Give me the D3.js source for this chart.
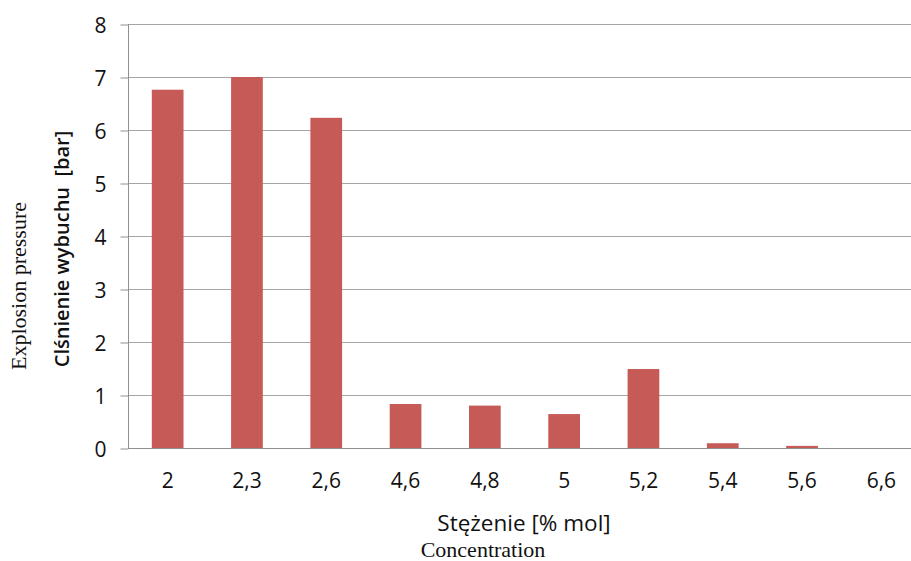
<!DOCTYPE html>
<html>
<head>
<meta charset="utf-8">
<script src="https://cdn.jsdelivr.net/npm/d3@7"></script>
<style>
  body { margin: 0; background: #fff; }
  svg { display: block; }
</style>
</head>
<body>
<svg id="chart"></svg>
<script>
var width = 911;
var height = 561;

var categories = ['2', '2,3', '2,6', '4,6', '4,8', '5', '5,2', '5,4', '5,6', '6,6'];
var pressures = [6.76, 7.0, 6.23, 0.83, 0.8, 0.64, 1.49, 0.09, 0.04, 0];
var yTicks = [0, 1, 2, 3, 4, 5, 6, 7, 8];

var plotLeft = 128;
var plotRight = 921; // the plot runs a little past the cropped edge
var plotTop = 24;
var plotBottom = 448;

var svg = d3.select('#chart')
  .attr('width', width)
  .attr('height', height);

var xScale = d3.scaleBand()
  .domain(categories)
  .range([plotLeft, plotRight])
  .paddingInner(0.6)
  .paddingOuter(0.3);

var yScale = d3.scaleLinear()
  .domain([0, 8])
  .range([plotBottom, plotTop]);

// gridlines
svg.append('g')
  .selectAll('line')
  .data(yTicks)
  .enter()
  .append('line')
  .attr('x1', plotLeft)
  .attr('x2', plotRight)
  .attr('y1', d => yScale(d) + 0.5)
  .attr('y2', d => yScale(d) + 0.5)
  .attr('stroke', '#a6a6a6')
  .attr('stroke-width', 1);

// y axis
var yAxis = svg.append('g')
  .attr('transform', 'translate(' + (plotLeft + 0.5) + ',0.5)')
  .call(d3.axisLeft(yScale).tickValues(yTicks).tickSize(8).tickPadding(14));

yAxis.select('.domain').attr('stroke', '#909090').attr('d', 'M0,' + (plotTop - 0.5) + 'V' + (plotBottom - 0.5));
yAxis.selectAll('.tick line').attr('stroke', '#909090');
yAxis.selectAll('text')
  .style('font-family', '"Open Sans", sans-serif')
  .style('font-size', '21px')
  .attr('fill', '#111')
  .attr('dy', '0.36em');

// bars
svg.append('g')
  .selectAll('rect')
  .data(pressures)
  .enter()
  .append('rect')
  .attr('x', (d, i) => xScale(categories[i]))
  .attr('y', d => yScale(d))
  .attr('width', xScale.bandwidth())
  .attr('height', d => plotBottom - yScale(d))
  .attr('fill', '#c55a56');

// x axis
var xAxis = svg.append('g')
  .attr('transform', 'translate(0,' + (plotBottom + 0.5) + ')')
  .call(d3.axisBottom(xScale).tickSize(0).tickPadding(25));

xAxis.select('.domain').attr('stroke', '#909090').attr('d', 'M' + plotLeft + ',0H' + plotRight);
xAxis.selectAll('text')
  .style('font-family', '"Open Sans", sans-serif')
  .style('font-size', '21px')
  .attr('fill', '#111');

// axis titles
svg.append('text')
  .attr('x', 524)
  .attr('y', 531)
  .style('text-anchor', 'middle')
  .style('font-family', '"Open Sans", sans-serif')
  .style('font-size', '22.5px')
  .attr('fill', '#111')
  .text('Stężenie [% mol]');

svg.append('text')
  .attr('x', 483)
  .attr('y', 557)
  .style('text-anchor', 'middle')
  .style('font-family', '"Liberation Serif", serif')
  .style('font-size', '22px')
  .attr('fill', '#111')
  .text('Concentration');

svg.append('text')
  .attr('transform', 'rotate(-90)')
  .attr('x', -249)
  .attr('y', 69)
  .style('text-anchor', 'middle')
  .style('font-family', '"Open Sans", sans-serif')
  .style('font-size', '20px')
  .style('font-weight', '600')
  .style('white-space', 'pre')
  .attr('fill', '#111')
  .text('Clśnienie wybuchu  [bar]');

svg.append('text')
  .attr('transform', 'rotate(-90)')
  .attr('x', -286)
  .attr('y', 26)
  .style('text-anchor', 'middle')
  .style('font-family', '"Liberation Serif", serif')
  .style('font-size', '22px')
  .attr('fill', '#111')
  .text('Explosion pressure');
</script>
</body>
</html>
